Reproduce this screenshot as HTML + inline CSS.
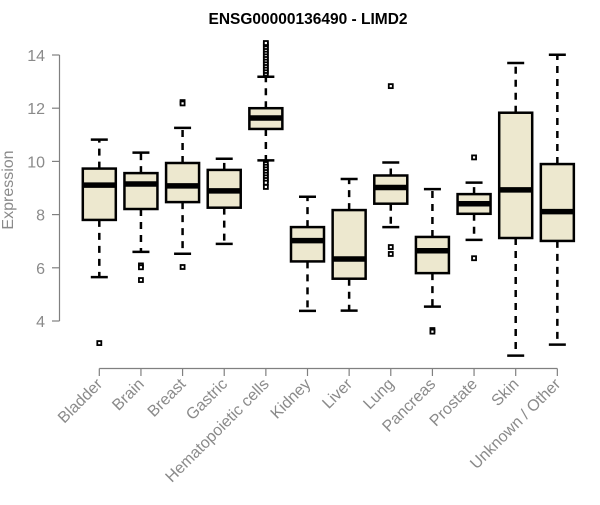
<!DOCTYPE html>
<html><head><meta charset="utf-8"><style>
body{margin:0;background:#fff}
svg text{font-family:"Liberation Sans",Arial,sans-serif}
</style></head><body>
<svg id="chart" width="600" height="500" xmlns="http://www.w3.org/2000/svg">
<text x="308" y="24" text-anchor="middle" font-size="15.5" font-weight="bold" fill="#000">ENSG00000136490 - LIMD2</text>
<text transform="translate(13,190) rotate(-90)" text-anchor="middle" font-size="16" fill="#8a8a8a">Expression</text>
<g id="yaxis"></g>
<g id="xaxis"></g>
<g id="boxes"></g>
</svg>
<script>
const categories=["Bladder","Brain","Breast","Gastric","Hematopoietic cells","Kidney","Liver","Lung","Pancreas","Prostate","Skin","Unknown / Other"];
const whiskerLow=[5.65,6.6,6.53,6.9,10.04,4.38,4.39,7.53,4.54,7.05,2.7,3.11];
const q1=[7.8,8.21,8.47,8.26,11.22,6.24,5.59,8.41,5.8,8.03,7.12,7.01];
const medians=[9.11,9.15,9.08,8.89,11.63,7.02,6.33,9.02,6.64,8.41,8.93,8.11];
const q3=[9.73,9.56,9.94,9.68,12.0,7.53,8.17,9.47,7.16,8.77,11.83,9.9];
const whiskerHigh=[10.82,10.33,11.26,10.1,13.18,8.67,9.34,9.96,8.96,9.2,13.7,14.01];
const outliers=[[3.17],[6.09,6.02,5.54],[12.23,12.18,6.03],[],
[13.3,13.4,13.5,13.6,13.7,13.8,13.9,14.0,14.1,14.2,14.3,14.4,14.45,9.9,9.8,9.7,9.6,9.5,9.4,9.3,9.2,9.04],
[],[],[12.83,6.78,6.52],[3.66,3.6],[10.15,6.36],[],[]];
const yTicks=[4,6,8,10,12,14];
const NS="http://www.w3.org/2000/svg";
function yS(v){return 321-(v-4)*26.6;}
function xS(i){return 99.3+41.64*i;}
function mk(tag,attrs,parent){const e=document.createElementNS(NS,tag);for(const k in attrs)e.setAttribute(k,attrs[k]);parent.appendChild(e);return e;}
const ya=document.getElementById('yaxis'),xa=document.getElementById('xaxis'),bx=document.getElementById('boxes');
mk('line',{x1:59.5,x2:59.5,y1:yS(14),y2:yS(4),stroke:'#808080','stroke-width':1.2},ya);
yTicks.forEach(t=>{
 const l=mk('line',{x1:52,x2:59.5,y1:yS(t),y2:yS(t),stroke:'#808080','stroke-width':1.2},ya);
 
 
 const tx=mk('text',{x:45,y:yS(t)+6,'text-anchor':'end','font-size':16,fill:'#8a8a8a'},ya);
 tx.textContent=t;
 
 
});
mk('line',{x1:xS(0),x2:xS(categories.length-1),y1:368.5,y2:368.5,stroke:'#808080','stroke-width':1.2},xa);
categories.forEach((c,i)=>{
 const x=xS(i);
 const l=mk('line',{x1:x,x2:x,y1:368.5,y2:376,stroke:'#808080','stroke-width':1.2},xa);
 
 
 const tx=mk('text',{transform:`translate(${x+4},${385}) rotate(-45)`,'text-anchor':'end','font-size':16,fill:'#8a8a8a'},xa);
 tx.textContent=c;
 
 
 const g=mk('g',{},bx);
 
 
 const hw=16.5,cw=8.5;
 mk('line',{x1:x,x2:x,y1:yS(q3[i]),y2:yS(whiskerHigh[i]),stroke:'#000','stroke-width':2.5,'stroke-dasharray':'7,6'},g);
 mk('line',{x1:x,x2:x,y1:yS(q1[i]),y2:yS(whiskerLow[i]),stroke:'#000','stroke-width':2.5,'stroke-dasharray':'7,6'},g);
 mk('line',{x1:x-cw,x2:x+cw,y1:yS(whiskerHigh[i]),y2:yS(whiskerHigh[i]),stroke:'#000','stroke-width':2.5},g);
 mk('line',{x1:x-cw,x2:x+cw,y1:yS(whiskerLow[i]),y2:yS(whiskerLow[i]),stroke:'#000','stroke-width':2.5},g);
 mk('rect',{x:x-hw,y:yS(q3[i]),width:hw*2,height:yS(q1[i])-yS(q3[i]),fill:'#ede8cf',stroke:'#000','stroke-width':2.5},g);
 mk('line',{x1:x-hw,x2:x+hw,y1:yS(medians[i]),y2:yS(medians[i]),stroke:'#000','stroke-width':5.5},g);
 outliers[i].forEach(o=>{
  const r=mk('rect',{x:x-2,y:yS(o)-2,width:4,height:4,fill:'#fff',stroke:'#000','stroke-width':1.8},g);
  
  
 });
});
</script>
</body></html>
